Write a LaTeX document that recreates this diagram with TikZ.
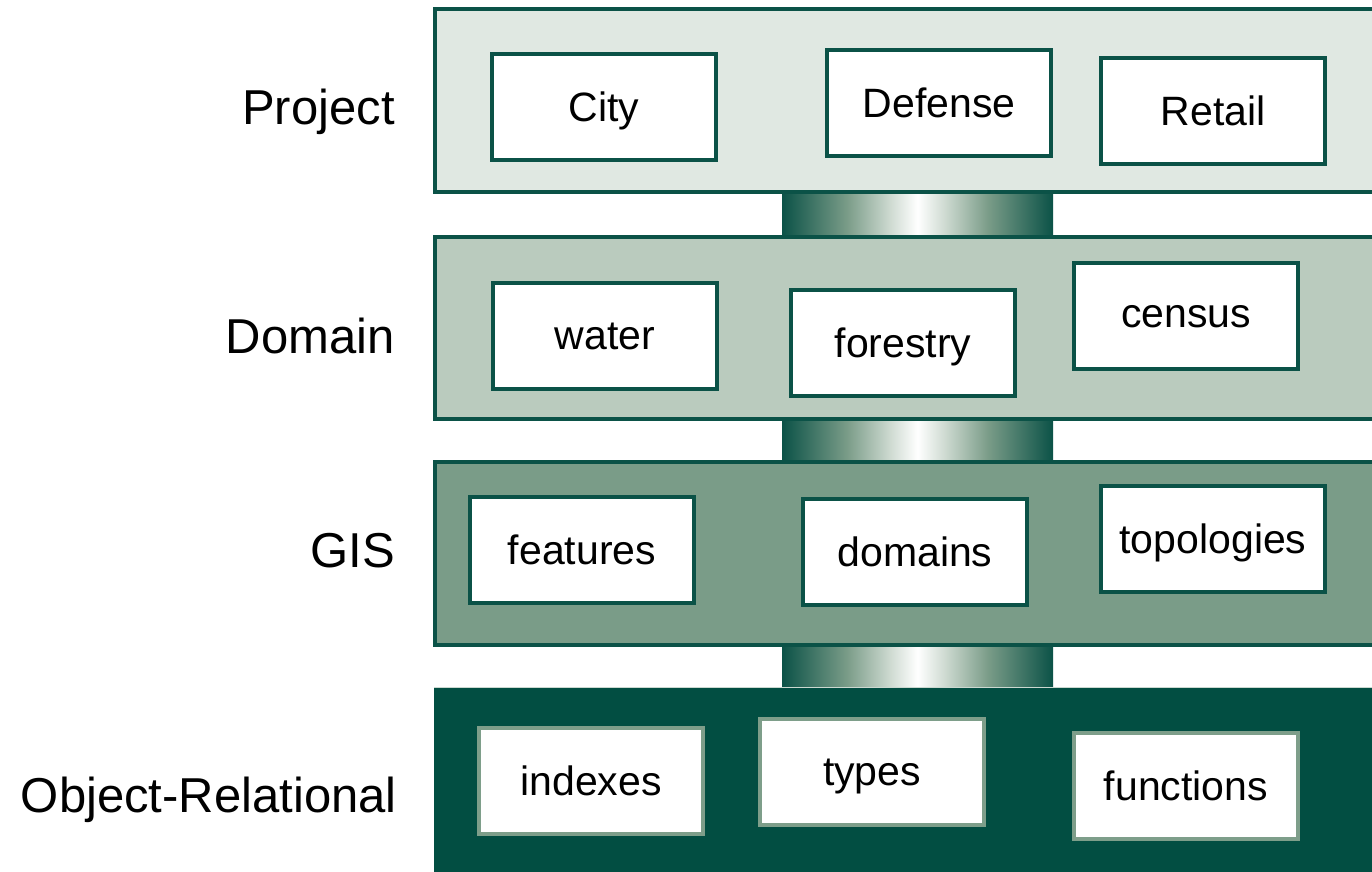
\documentclass[tikz,border=0pt]{standalone}
\usepackage{fontspec}
\setmainfont{Liberation Sans}
\definecolor{bandline}{HTML}{0B5247}
\definecolor{projfill}{HTML}{E0E8E2}
\definecolor{domfill}{HTML}{BACBBE}
\definecolor{gisfill}{HTML}{7A9C88}
\definecolor{orfill}{HTML}{024E42}
\definecolor{lightline}{HTML}{7E9E8A}
\pgfdeclarehorizontalshading{pillarshade}{100bp}{
  color(0bp)=(bandline); color(25bp)=(bandline);
  color(37bp)=(gisfill); color(45bp)=(domfill!70!white); color(50bp)=(white);
  color(55bp)=(domfill!70!white); color(63bp)=(gisfill);
  color(75bp)=(bandline); color(100bp)=(bandline)}
\begin{document}
\begin{tikzpicture}[x=1pt,y=-1pt,
  band/.style={draw=bandline,line width=3.5pt},
  itembox/.style={draw=bandline,line width=4pt,fill=white,minimum width=224pt,minimum height=106pt,inner sep=0pt,text depth=0pt,font=\fontsize{41}{48}\selectfont,text=black},
  itemboxlight/.style={itembox,draw=lightline},
  layerlabel/.style={anchor=east,text depth=0pt,font=\fontsize{49}{57}\selectfont,text=black,inner sep=0pt},
  pillar/.style={shading=pillarshade}
]
\useasboundingbox (0,0) rectangle (1372,871);
\clip (0,0) rectangle (1372,871);
% pillars
\shade[pillar] (782,190) rectangle (1053,240);
\shade[pillar] (782,417) rectangle (1053,465);
\shade[pillar] (782,643) rectangle (1053,690);
% bands
\draw[band,fill=projfill] (435,9) rectangle (1380,192);
\draw[band,fill=domfill] (435,237) rectangle (1380,419);
\draw[band,fill=gisfill] (435,462) rectangle (1380,645);
\fill[orfill] (434,687) rectangle (1380,875);
\draw[lightline!40,line width=0.8pt] (434,687) -- (1380,687);
% labels
\node[layerlabel] (lproj) at (395,107) {Project};
\node[layerlabel] (ldom) at (395,336) {Domain};
\node[layerlabel] (lgis) at (395,550) {GIS};
\node[layerlabel] (lor) at (397,795) {Object-Relational};
% project
\node[itembox] (city) at (604,107) {City};
\node[itembox] (defense) at (939,103) {Defense};
\node[itembox] (retail) at (1213,111) {Retail};
% domain
\node[itembox] (water) at (605,336) {water};
\node[itembox] (forestry) at (903,343) {forestry};
\node[itembox] (census) at (1186,316) {census};
% gis
\node[itembox] (features) at (582,550) {features};
\node[itembox] (domains) at (915,552) {domains};
\node[itembox] (topologies) at (1213,539) {topologies};
% object-relational
\node[itemboxlight] (indexes) at (591,781) {indexes};
\node[itemboxlight] (types) at (872,772) {types};
\node[itemboxlight] (functions) at (1186,786) {functions};
\end{tikzpicture}
\end{document}
